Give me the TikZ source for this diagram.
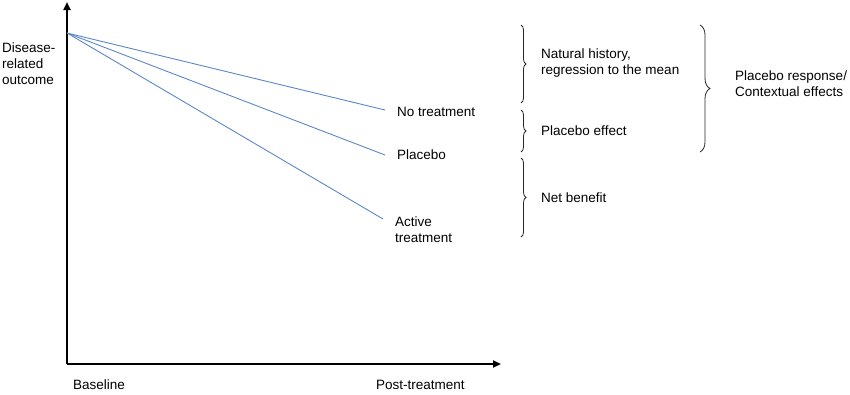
\documentclass[tikz,border=0pt]{standalone}
\usepackage{fontspec}
\setmainfont{Liberation Sans}
\usetikzlibrary{decorations.pathreplacing,arrows.meta}
\begin{document}
\begin{tikzpicture}[x=1pt,y=-1pt,
  lbl/.style={inner sep=0pt,anchor=west,align=left,font=\fontsize{13.5}{16}\selectfont},
  axis/.style={line width=2.4pt,-{Triangle[length=8pt,width=7pt]}},
  trend/.style={color=trendblue,line width=0.9pt},
  brc/.style={decorate,decoration={brace,amplitude=5pt},line width=0.8pt,color=black!85}]
\definecolor{trendblue}{HTML}{5B87C8}
\useasboundingbox (0,0) rectangle (850,394);
\coordinate (O) at (67,364);
\coordinate (Ytop) at (67,2);
\coordinate (Xend) at (501,364);
\draw[axis] (O) -- (Ytop);
\draw[axis] (O) -- (Xend);
\coordinate (start) at (67,33);
\coordinate (eNo) at (385,110);
\coordinate (ePl) at (385,155);
\coordinate (eAc) at (383,219);
\draw[trend] (start) -- (eNo);
\draw[trend] (start) -- (ePl);
\draw[trend] (start) -- (eAc);
\node[lbl] (ylab) at (2,64) {Disease-\\related\\outcome};
\node[lbl] (no) at (397,112) {No treatment};
\node[lbl] (pl) at (397,155) {Placebo};
\node[lbl] (ac) at (395,230) {Active\\treatment};
\node[lbl] (bl) at (73,385) {Baseline};
\node[lbl] (pt) at (376,385) {Post-treatment};
\draw[brc] (521,25) -- (521,103) coordinate[pos=0.5] (b1);
\draw[brc] (521,110) -- (521,152);
\draw[brc] (521,158) -- (521,237);
\draw[brc,decoration={amplitude=10pt}] (700,25) -- (700,152);
\node[lbl] (nh) at (541,63) {Natural history,\\regression to the mean};
\node[lbl] (pe) at (541,131) {Placebo effect};
\node[lbl] (nb) at (541,198) {Net benefit};
\node[lbl] (pr) at (735,84) {Placebo response/\\Contextual effects};
\end{tikzpicture}
\end{document}
